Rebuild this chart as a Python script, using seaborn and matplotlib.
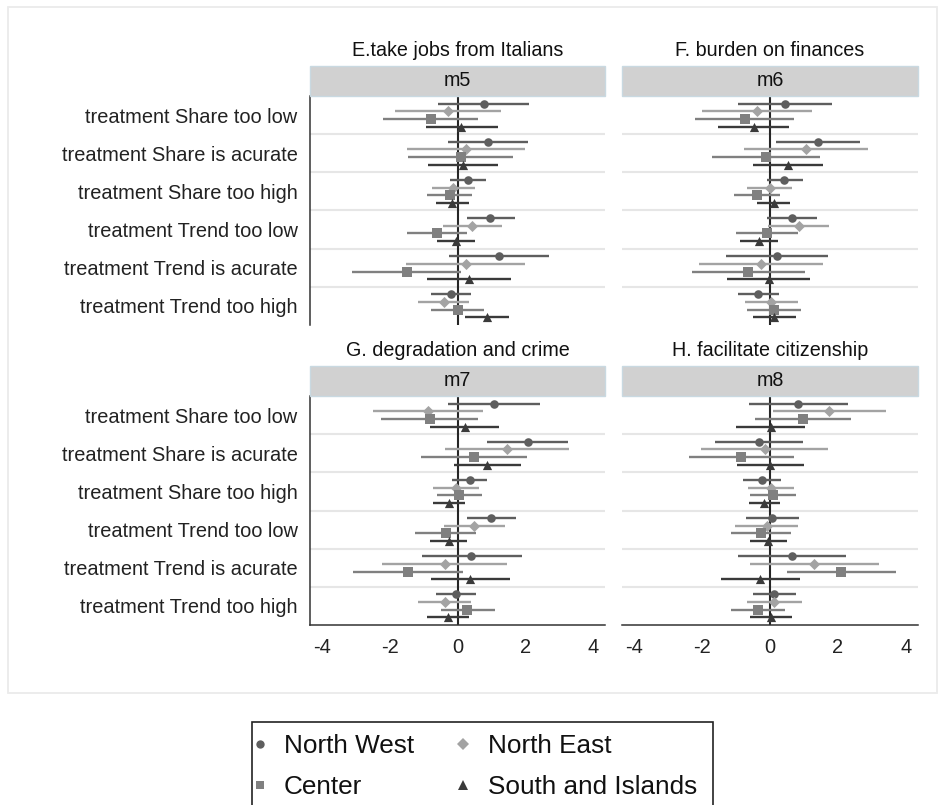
import matplotlib
matplotlib.use("Agg")
import matplotlib.pyplot as plt
from matplotlib.patches import Rectangle
from matplotlib.lines import Line2D
import numpy as np
import pandas as pd
import seaborn as sns

# ---- data -----------------------------------------------------------------
treatments = ["treatment Share too low", "treatment Share is acurate",
              "treatment Share too high", "treatment Trend too low",
              "treatment Trend is acurate", "treatment Trend too high"]
regions = ["North West", "North East", "Center", "South and Islands"]
models = ["m5", "m6", "m7", "m8"]
titles = ["E.take jobs from Italians", "F. burden on finances",
          "G. degradation and crime", "H. facilitate citizenship"]

# point estimates, one row per region (NW, NE, Center, South), one column per treatment
m5_coef = [[0.77, 0.89, 0.30, 0.97, 1.22, -0.19],
           [-0.28, 0.25, -0.12, 0.44, 0.24, -0.41],
           [-0.79, 0.10, -0.23, -0.61, -1.49, 0.01],
           [0.11, 0.17, -0.16, -0.03, 0.34, 0.87]]
m5_lo = [[-0.59, -0.29, -0.21, 0.27, -0.26, -0.77],
         [-1.84, -1.50, -0.76, -0.42, -1.52, -1.16],
         [-2.19, -1.46, -0.89, -1.50, -3.11, -0.78],
         [-0.94, -0.88, -0.65, -0.60, -0.89, 0.23]]
m5_hi = [[2.12, 2.09, 0.83, 1.69, 2.70, 0.41],
         [1.28, 2.01, 0.52, 1.31, 2.01, 0.33],
         [0.62, 1.65, 0.43, 0.28, 0.09, 0.79],
         [1.19, 1.21, 0.33, 0.53, 1.59, 1.52]]

m6_coef = [[0.45, 1.40, 0.42, 0.64, 0.21, -0.34],
           [-0.37, 1.06, -0.01, 0.84, -0.26, 0.03],
           [-0.74, -0.12, -0.38, -0.09, -0.65, 0.12],
           [-0.48, 0.52, 0.11, -0.32, -0.04, 0.12]]
m6_lo = [[-0.93, 0.19, -0.10, -0.09, -1.31, -0.95],
         [-1.99, -0.77, -0.67, -0.05, -2.09, -0.74],
         [-2.20, -1.72, -1.05, -0.99, -2.29, -0.69],
         [-1.53, -0.50, -0.37, -0.88, -1.27, -0.51]]
m6_hi = [[1.84, 2.64, 0.96, 1.37, 1.72, 0.26],
         [1.24, 2.88, 0.65, 1.74, 1.57, 0.82],
         [0.70, 1.46, 0.30, 0.82, 1.02, 0.91],
         [0.57, 1.55, 0.58, 0.23, 1.17, 0.76]]

m7_coef = [[1.08, 2.07, 0.36, 1.00, 0.41, -0.04],
           [-0.88, 1.47, -0.04, 0.49, -0.38, -0.38],
           [-0.82, 0.48, 0.04, -0.34, -1.47, 0.29],
           [0.21, 0.88, -0.25, -0.26, 0.38, -0.27]]
m7_lo = [[-0.27, 0.88, -0.15, 0.29, -1.06, -0.63],
         [-2.49, -0.36, -0.71, -0.41, -2.22, -1.16],
         [-2.25, -1.08, -0.62, -1.25, -3.10, -0.49],
         [-0.82, -0.11, -0.71, -0.80, -0.79, -0.89]]
m7_hi = [[2.44, 3.27, 0.88, 1.72, 1.90, 0.56],
         [0.75, 3.29, 0.63, 1.39, 1.47, 0.41],
         [0.60, 2.06, 0.73, 0.54, 0.16, 1.10],
         [1.22, 1.88, 0.23, 0.29, 1.56, 0.35]]

m8_coef = [[0.83, -0.31, -0.25, 0.07, 0.66, 0.13],
           [1.75, -0.16, 0.02, -0.09, 1.31, 0.13],
           [0.97, -0.85, 0.09, -0.26, 2.09, -0.34],
           [0.02, 0.01, -0.17, -0.05, -0.28, 0.04]]
m8_lo = [[-0.63, -1.61, -0.79, -0.70, -0.93, -0.51],
         [0.10, -2.03, -0.66, -1.02, -0.58, -0.67],
         [-0.43, -2.40, -0.58, -1.16, 0.49, -1.15],
         [-0.99, -0.98, -0.63, -0.58, -1.45, -0.58]]
m8_hi = [[2.30, 0.98, 0.31, 0.84, 2.25, 0.78],
         [3.42, 1.72, 0.71, 0.83, 3.20, 0.93],
         [2.39, 0.72, 0.76, 0.62, 3.72, 0.43],
         [1.04, 1.01, 0.29, 0.49, 0.89, 0.66]]

x_ticks = [-4, -2, 0, 2, 4]

# ---- style ------------------------------------------------------------------
sns.set_style("white")
plt.rcParams["font.family"] = ["Liberation Sans", "DejaVu Sans"]
plt.rcParams["axes.unicode_minus"] = False

palette = {"North West": "#5e5e5e", "North East": "#a3a3a3",
           "Center": "#808080", "South and Islands": "#3a3a3a"}
markers = {"North West": "o", "North East": "D",
           "Center": "s", "South and Islands": "^"}
msize = {"North West": 38, "North East": 32,
         "Center": 46, "South and Islands": 44}
legend_msize = {"North West": 6.0, "North East": 5.8,
                "Center": 6.4, "South and Islands": 7.0}
offsets = {"North West": -0.3, "North East": -0.1,
           "Center": 0.1, "South and Islands": 0.3}

model_data = {"m5": (m5_coef, m5_lo, m5_hi), "m6": (m6_coef, m6_lo, m6_hi),
              "m7": (m7_coef, m7_lo, m7_hi), "m8": (m8_coef, m8_lo, m8_hi)}

rows = []
for m in models:
    coef, lo, hi = model_data[m]
    for r_i, reg in enumerate(regions):
        for t_i, tr in enumerate(treatments):
            rows.append(dict(model=m, region=reg, treatment=tr,
                             ypos=t_i + offsets[reg],
                             coef=coef[r_i][t_i], lo=lo[r_i][t_i], hi=hi[r_i][t_i]))
df = pd.DataFrame(rows)

W, H = 939, 805
fig = plt.figure(figsize=(W / 100, H / 100), dpi=100)

# light frame around the graph region
fig.patches.append(Rectangle((8 / W, 1 - 693 / H), (937 - 8) / W, (693 - 7) / H,
                             transform=fig.transFigure, fill=False,
                             edgecolor="#ebebeb", lw=1.3))

boxes = [(310, 96, 605, 325), (622, 96, 918, 325),
         (310, 396, 605, 625), (622, 396, 918, 625)]

for k, m in enumerate(models):
    x0, y0, x1, y1 = boxes[k]
    ax = fig.add_axes([x0 / W, 1 - y1 / H, (x1 - x0) / W, (y1 - y0) / H])
    sub = df[df.model == m]

    for b in np.arange(0.5, len(treatments) - 0.5, 1.0):
        ax.axhline(b, color="#e6e6e6", lw=1.5, zorder=0)
    ax.axvline(0, color="#262626", lw=1.5, zorder=1)

    for reg in regions:
        s = sub[sub.region == reg]
        ax.hlines(s.ypos, s.lo, s.hi, colors=palette[reg], lw=1.7, zorder=2)
    for reg in regions:
        s = sub[sub.region == reg]
        sns.scatterplot(data=s, x="coef", y="ypos", color=palette[reg],
                        marker=markers[reg], s=msize[reg], linewidth=0,
                        legend=False, ax=ax, zorder=3)

    ax.set_xlim(-4.36, 4.36)
    ax.set_ylim(len(treatments) - 0.5, -0.5)
    ax.set_xlabel("")
    ax.set_ylabel("")
    ax.set_xticks(x_ticks)
    ax.set_xticklabels([str(v) for v in x_ticks])
    ax.set_yticks(range(len(treatments)))
    ax.set_yticklabels(treatments)
    ax.tick_params(axis="both", labelsize=14.4, colors="#222222",
                   length=5, width=1.1, direction="out")
    ax.tick_params(axis="x", pad=4)
    ax.tick_params(axis="y", pad=4)
    for sp in ["top", "right"]:
        ax.spines[sp].set_visible(False)
    for sp in ["left", "bottom"]:
        ax.spines[sp].set_color("#333333")
        ax.spines[sp].set_linewidth(1.1)

    left_col = k % 2 == 0
    bottom_row = k >= 2
    if not left_col:
        ax.spines["left"].set_visible(False)
        ax.tick_params(axis="y", left=False, labelleft=False)
    if not bottom_row:
        ax.spines["bottom"].set_visible(False)
        ax.tick_params(axis="x", bottom=False, labelbottom=False)

    # strip header with the model name, and the outcome title above it
    hh = 30 / (y1 - y0)
    ax.add_patch(Rectangle((0, 1), 1, hh, transform=ax.transAxes,
                           facecolor="#d1d1d1", edgecolor="#c9d9e1", lw=1.0,
                           clip_on=False, zorder=5))
    ax.text(0.5, 1 + hh / 2, m, transform=ax.transAxes, ha="center",
            va="center", fontsize=14.2, color="#111111", zorder=6)
    ax.text(0.5, 1 + 45 / (y1 - y0), titles[k], transform=ax.transAxes,
            ha="center", va="center", fontsize=14.2, color="#111111")

# legend: entries without a frame, plus a box that runs off the bottom edge
fig.patches.append(Rectangle((252 / W, -0.02), (713 - 252) / W, (1 - 722 / H) + 0.02,
                             transform=fig.transFigure, fill=False,
                             edgecolor="#222222", lw=1.2))
order = ["North West", "Center", "North East", "South and Islands"]
handles = [Line2D([], [], linestyle="none", marker=markers[r],
                  markerfacecolor=palette[r], markeredgewidth=0,
                  markersize=legend_msize[r]) for r in order]
leg = fig.legend(handles, order, ncol=2, loc="upper left",
                 bbox_to_anchor=(252 / W, 1 - 734 / H),
                 fontsize=18.8, frameon=False, borderpad=0,
                 handlelength=0.6, handletextpad=0.63, columnspacing=1.58,
                 labelspacing=0.67, borderaxespad=0)
for t in leg.get_texts():
    t.set_color("#111111")

fig.savefig("out.png", dpi=100)
